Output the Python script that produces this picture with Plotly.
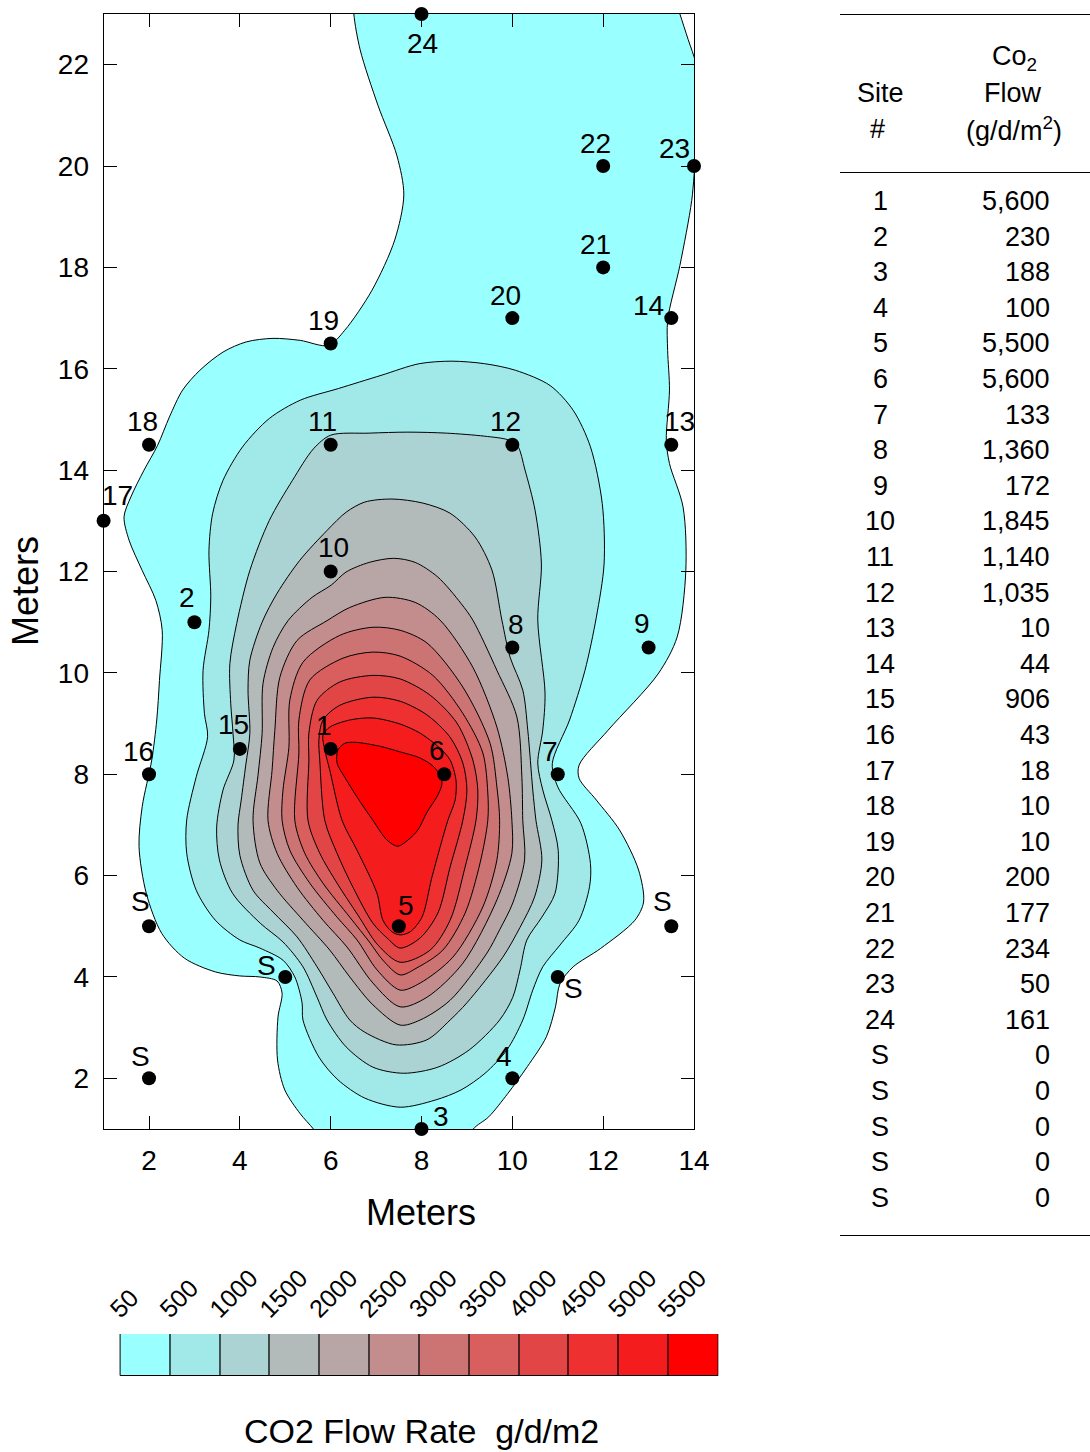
import plotly.graph_objects as go

# ---------- data ----------
levels = [50, 500, 1000, 1500, 2000, 2500, 3000, 3500, 4000, 4500, 5000, 5500]
level_colors = ["#99FFFF", "#A1E9E8", "#ABD3D3", "#B3BABA", "#B8A5A5", "#C48D8D",
                "#CC7373", "#D95F5F", "#E24545", "#EE3030", "#F41C1C", "#FF0000"]

c50 = [(6.51,23.4),(6.51,23),(6.65,22.29),(7.04,21.2),(7.46,20.2),(7.61,19.43),(7.41,18.54),(6.91,17.55),(6.31,16.76),
       (5.95,16.46),(5.33,16.56),(4.73,16.6),(4.14,16.53),(3.63,16.33),(3.12,15.97),(2.74,15.58),(2.45,15.05),(2.19,14.49),
       (1.89,14.0),(1.6,13.47),(1.45,13.08),(1.56,12.62),(1.85,12.02),(2.15,11.43),(2.29,10.84),(2.23,9.85),(2.17,9.07),
       (2.06,8.28),(1.85,7.36),(1.78,6.57),(1.94,5.65),(2.28,4.86),(2.78,4.37),(3.46,4.1),(4.0,4.02),(4.44,4.0),(4.82,3.92),
       (4.93,3.68),(4.84,3.21),(4.83,2.36),(4.99,1.77),(5.33,1.3),(5.62,1.0),(5.85,0.7),(9.0,0.7),(9.14,1.0),(9.48,1.24),
       (9.9,1.7),(10.33,2.23),(10.75,2.82),(10.95,3.41),(11.05,3.87),(11.34,4.2),(11.94,4.56),(12.7,5.12),(12.89,5.48),
       (12.78,6.11),(12.36,6.9),(11.85,7.49),(11.47,7.92),(11.47,8.18),(12.11,8.87),(13.21,9.98),(13.63,10.71),(13.82,12.02),
       (13.76,13.27),(13.46,14.13),(13.39,14.59),(13.46,15.58),(13.42,16.36),(13.42,16.96),(13.69,18.04),(13.95,19.32),
       (14.05,20.3),(14.2,21),(14.05,22),(13.87,22.5),(13.69,23),(13.55,23.4)]
c500 = [(8.67,16.15),(7.95,16.1),(7.11,15.87),(6.17,15.61),(5.33,15.38),(4.65,15.02),(4.06,14.46),(3.63,13.8),(3.4,13.14),
        (3.32,12.42),(3.36,11.5),(3.32,10.84),(3.19,10.05),(3.22,9.2),(3.29,8.74),(3.04,7.95),(2.83,7.1),(2.83,6.44),
        (3.04,5.71),(3.46,5.12),(4.0,4.73),(4.44,4.57),(4.95,4.33),(5.21,4.0),(5.37,3.49),(5.39,3.15),(5.74,2.42),(6.16,1.97),
        (6.75,1.61),(7.53,1.43),(8.30,1.57),(8.87,1.77),(9.40,2.10),(9.88,2.56),(10.23,3.15),(10.45,3.74),(10.67,4.2),
        (11.05,4.63),(11.47,5.12),(11.7,5.78),(11.72,6.24),(11.51,7.03),(11.0,7.75),(10.88,8.21),(11.26,9.07),(11.6,10.05),
        (11.85,11.1),(12.02,12.15),(11.98,13.34),(11.72,14.46),(11.34,15.18),(10.83,15.67),(10.07,15.97),(9.39,16.1)]
c1000 = [(7.7,14.75),(6.85,14.73),(6.0,14.69),(5.62,14.42),(5.16,13.8),(4.65,13.01),(4.22,12.02),(3.93,10.97),(3.78,10.18),
         (3.8,9.39),(3.85,8.8),(3.87,8.28),(3.63,7.69),(3.49,6.96),(3.55,6.31),(3.84,5.65),(4.45,5.06),(4.95,4.69),(5.39,4.2),
         (5.70,3.6),(5.92,3.15),(6.34,2.62),(6.93,2.22),(7.61,2.10),(8.36,2.22),(9.05,2.56),(9.72,3.15),(10.01,3.6),(10.17,4.14),(10.32,4.73),
         (10.65,5.18),(10.94,5.65),(11.01,6.5),(10.87,7.09),(10.67,7.69),(10.56,8.22),(10.67,8.87),(10.72,9.6),(10.56,11.04),(10.64,12.15),
         (10.5,13.21),(10.28,14.0),(10.11,14.49),(9.9,14.6),(9.39,14.67),(8.55,14.73)]
c1500 = [(7.35,13.43),(6.75,13.37),(6.34,13.17),(5.92,12.81),(5.32,12.22),(4.82,11.57),(4.49,11.0),(4.22,10.25),(4.18,9.66),
         (4.22,8.81),(4.13,8.18),(4.03,7.49),(3.96,7.0),(4.0,6.40),(4.29,5.71),(4.73,5.28),(5.26,4.79),(5.70,4.20),(6.05,3.68),
         (6.42,3.15),(6.75,2.91),(7.44,2.66),(8.12,2.76),(8.63,3.15),(9.0,3.49),(9.79,4.39),(10.17,4.98),(10.49,5.58),(10.65,6.31),(10.52,7.09),
         (10.45,7.69),(10.34,8.87),(10.23,9.66),(9.95,10.31),(9.77,11.04),(9.55,12.03),(9.18,12.68),(8.63,13.15),(8.03,13.35)]
c2000 = [(7.39,12.26),(6.85,12.18),(6.34,11.99),(6.01,11.73),(5.59,11.49),(5.06,11.03),(4.73,10.5),(4.51,9.79),(4.49,8.80),
         (4.40,7.98),(4.29,7.09),(4.44,6.25),(4.82,5.71),(5.39,5.12),(5.98,4.53),(6.42,4.0),(6.93,3.45),(7.53,3.05),(7.97,3.15),
         (8.63,3.54),(9.44,4.47),(9.72,4.93),(10.01,5.46),(10.27,6.31),(10.23,7.09),(10.21,7.94),(10.10,9.13),(9.66,10.05),(9.13,11.04),
         (8.87,11.37),(8.36,11.89),(7.86,12.18)]
c2500 = [(7.20,11.49),(6.42,11.29),(5.92,11.03),(5.26,10.64),(4.88,9.91),(4.77,8.86),(4.71,8.08),(4.62,7.09),(4.82,6.44),
         (5.26,5.77),(5.83,5.12),(6.36,4.59),(6.93,3.88),(7.53,3.41),(8.12,3.6),(8.91,4.27),(9.66,5.52),(9.99,6.44),(9.99,7.09),
         (9.90,7.94),(9.66,8.93),(9.13,10.11),(8.41,11.04),(7.86,11.39)]
c3000 = [(6.93,10.9),(6.20,10.74),(5.39,10.21),(5.10,9.46),(5.08,8.53),(4.95,7.69),(4.93,7.09),(5.10,6.50),(5.54,5.85),(6.14,5.18),
         (6.58,4.73),(7.02,4.14),(7.53,3.74),(7.97,3.88),(8.69,4.39),(9.35,5.38),(9.66,6.31),(9.72,7.09),(9.66,7.75),(9.51,8.61),
         (8.91,9.72),(8.12,10.59),(7.53,10.84)]
c3500 = [(6.93,10.41),(6.27,10.29),(5.54,9.86),(5.30,9.07),(5.30,8.42),(5.21,7.09),(5.43,6.44),(5.83,5.85),(6.42,5.18),(6.87,4.67),
         (7.15,4.33),(7.53,4.04),(7.90,4.18),(8.47,4.53),(8.96,5.26),(9.29,6.25),(9.46,7.09),(9.46,7.63),(9.35,8.42),(8.91,9.2),
         (8.25,9.95),(7.53,10.33)]
c4000 = [(6.93,9.95),(6.20,9.82),(5.70,9.46),(5.52,8.81),(5.52,8.28),(5.50,7.09),(5.76,6.44),(6.14,5.85),(6.60,5.22),(7.04,4.63),
         (7.53,4.29),(8.19,4.53),(8.63,5.12),(8.96,6.17),(9.20,7.09),(9.24,7.69),(9.13,8.28),(8.78,9.01),(8.19,9.56),(7.53,9.88)]
c4500 = [(6.93,9.52),(6.20,9.36),(5.83,9.07),(5.74,8.67),(5.76,8.28),(5.87,7.09),(6.14,6.44),(6.49,5.77),(6.93,5.06),(7.24,4.77),
         (7.53,4.57),(7.97,4.77),(8.36,5.26),(8.63,6.17),(8.91,7.09),(9.00,7.69),(8.91,8.22),(8.63,8.73),(8.12,9.17),(7.53,9.44)]
c5000 = [(6.93,9.11),(6.42,9.07),(5.98,8.93),(5.83,8.77),(5.87,8.48),(5.98,8.08),(6.25,7.09),(6.58,6.50),(7.02,5.65),(7.15,5.12),
         (7.35,4.89),(7.53,4.83),(7.75,4.89),(8.01,5.18),(8.23,5.97),(8.58,7.09),(8.74,7.49),(8.76,7.88),(8.63,8.28),
         (8.41,8.51),(7.97,8.81),(7.53,8.99)]
c5500 = [(6.54,8.63),(7.09,8.55),(7.53,8.44),(7.97,8.32),(8.30,8.12),(8.45,7.83),(8.36,7.59),(8.12,7.25),(7.92,6.90),(7.70,6.70),
         (7.48,6.58),(7.24,6.70),(6.93,7.09),(6.58,7.55),(6.31,7.94),(6.14,8.22),(6.16,8.48),(6.31,8.61)]
contours = [c50, c500, c1000, c1500, c2000, c2500, c3000, c3500, c4000, c4500, c5000, c5500]

site_names = ["1","2","3","4","5","6","7","8","9","10","11","12","13","14","15","16","17","18","19","20","21","22","23","24","S","S","S","S","S"]
site_x = [6,3,8,10,7.5,8.5,11,10,13,6,6,10,13.5,13.5,4,2,1,2,6,10,12,12,14,8,2,5,2,11,13.5]
site_y = [8.5,11,1,2,5,8,8,10.5,10.5,12,14.5,14.5,14.5,17,8.5,8,13,14.5,16.5,17,18,20,20,23,5,4,2,4,5]
site_flow = [5600,230,188,100,5500,5600,133,1360,172,1845,1140,1035,10,44,906,43,18,10,10,200,177,234,50,161,0,0,0,0,0]

# label offsets from each site marker, in pixels (right, up)
label_dx = [-7,-7,19,-8,7,-7,-8,4,-7,3,-8,-7,8,-23,-6,-11,14,-7,-7,-7,-8,-8,-20,1,-9,-19,-9,16,-9]
label_dy = [23,25,13,22,21,24,23,23,24,24,23,23,23,13,24,23,25,23,23,23,23,23,18,-29,25,11,22,-12,25]

# ---------- layout constants ----------
W, H = 1090, 1452
FONT = "Liberation Sans, Arial, sans-serif"
def px(x): return x / W
def py(y): return 1 - y / H

fig = go.Figure()
for pts, col, lev in zip(contours, level_colors, levels):
    closed = pts + pts[:1]
    fig.add_trace(go.Scatter(x=[p[0] for p in closed], y=[p[1] for p in closed], mode="lines",
                             fill="toself", fillcolor=col, name=str(lev), showlegend=False, hoverinfo="skip",
                             line=dict(color="black", width=1, shape="spline", smoothing=0.85)))

fig.add_trace(go.Scatter(x=site_x, y=site_y, mode="markers", cliponaxis=False, showlegend=False,
                         text=site_names, marker=dict(color="black", size=14)))

annotations = []
for n, x, y, dx, dy in zip(site_names, site_x, site_y, label_dx, label_dy):
    annotations.append(dict(x=x, y=y, xref="x", yref="y", text=n, showarrow=False, xshift=dx, yshift=dy,
                            xanchor="center", yanchor="middle", font=dict(size=28, family=FONT, color="black")))

# colour bar
idx = list(range(len(levels)))
fig.add_trace(go.Bar(x=[i + 0.5 for i in idx], y=[1] * len(idx), width=1, xaxis="x2", yaxis="y2",
                     marker=dict(color=level_colors, line=dict(color="black", width=1)),
                     showlegend=False, hoverinfo="skip"))

# table
ROW0, ROWH = 201, 35.6
for i, (n, f) in enumerate(zip(site_names, site_flow)):
    yy = ROW0 + i * ROWH
    annotations.append(dict(x=px(880), y=py(yy), xref="paper", yref="paper", text=n, showarrow=False,
                            xanchor="center", yanchor="middle", font=dict(size=27, family=FONT, color="black")))
    annotations.append(dict(x=px(1052), y=py(yy), xref="paper", yref="paper", text=f"{f:,}", showarrow=False,
                            xanchor="right", yanchor="middle", font=dict(size=27, family=FONT, color="black")))
for txt, xx, yy in [("Co<sub>2</sub>", 1014, 58), ("Flow", 1013, 93), ("(g/d/m<sup>2</sup>)", 1014, 129),
                    ("Site", 880, 93), ("#", 877, 129)]:
    annotations.append(dict(x=px(xx), y=py(yy), xref="paper", yref="paper", text=txt, showarrow=False,
                            xanchor="center", yanchor="middle", font=dict(size=27, family=FONT, color="black")))
annotations.append(dict(x=px(421), y=py(1431), xref="paper", yref="paper", text="CO2 Flow Rate  g/d/m2", showarrow=False,
                        xanchor="center", yanchor="middle", font=dict(size=34, family=FONT, color="black")))
annotations.append(dict(x=px(421), y=py(1212), xref="paper", yref="paper", text="Meters", showarrow=False,
                        xanchor="center", yanchor="middle", font=dict(size=36, family=FONT, color="black")))
annotations.append(dict(x=px(26), y=py(591), xref="paper", yref="paper", text="Meters", showarrow=False, textangle=-90,
                        xanchor="center", yanchor="middle", font=dict(size=36, family=FONT, color="black")))

shapes = [dict(type="line", xref="paper", yref="paper", x0=px(840), x1=px(1090), y0=py(v), y1=py(v),
               line=dict(color="black", width=1)) for v in (14.5, 172.5, 1235.5)]

axis_common = dict(showgrid=False, zeroline=False, showline=True, linecolor="black", linewidth=1,
                   ticks="inside", ticklen=13, tickwidth=1, tickcolor="black", mirror="allticks",
                   tickfont=dict(size=28, family=FONT, color="black"))
fig.update_layout(
    width=W, height=H, autosize=False, margin=dict(l=0, r=0, t=0, b=0, pad=0, autoexpand=False),
    paper_bgcolor="white", plot_bgcolor="white", showlegend=False, bargap=0,
    font=dict(family=FONT, color="black"), annotations=annotations, shapes=shapes,
    xaxis=dict(domain=[px(103.6), px(694)], range=[1, 14], tickvals=list(range(2, 15, 2)), ticklabelstandoff=6,
               anchor="y", **axis_common),
    yaxis=dict(domain=[py(1129), py(14)], range=[1, 23], tickvals=list(range(2, 23, 2)), ticklabelstandoff=8,
               anchor="x", **axis_common),
    xaxis2=dict(domain=[px(95.6), px(718.5)], range=[-0.5, 12], side="top", anchor="y2", showgrid=False, zeroline=False,
                tickmode="array", tickvals=[i - 0.18 for i in idx], ticktext=[str(v) for v in levels],
                tickangle=-45, ticks="", showline=False, ticklabelstandoff=5,
                tickfont=dict(size=25, family=FONT, color="black")),
    yaxis2=dict(domain=[py(1376), py(1334)], range=[0, 1], anchor="x2", showgrid=False, zeroline=False,
                showticklabels=False, ticks=""),
)
fig.write_html("out.html", config={"responsive": False, "displayModeBar": False},
               post_script="document.body.style.margin='0';document.documentElement.style.overflow='hidden';")
